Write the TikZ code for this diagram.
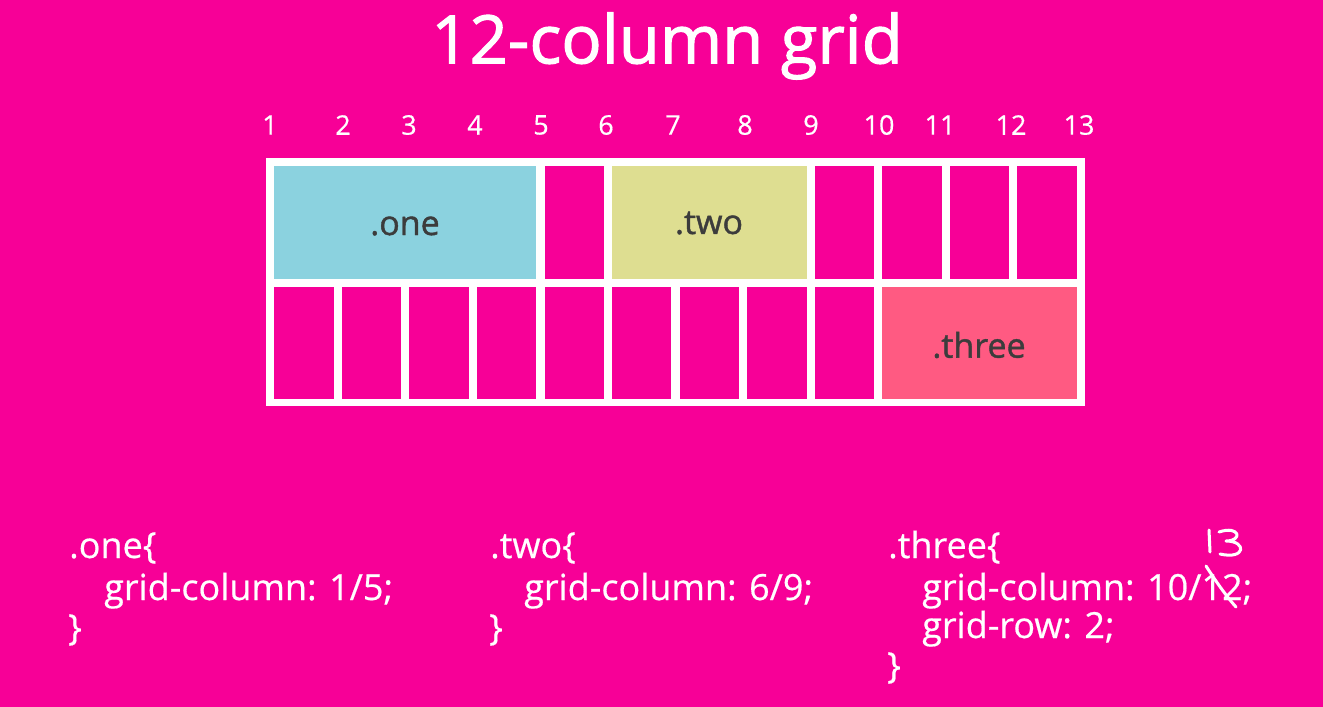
\documentclass[tikz,border=0pt]{standalone}
\usepackage{fontspec}
\setmainfont{Open Sans}
\newfontfamily\headfont[FakeBold=1.6]{Open Sans}
\newfontfamily\medfont[FakeBold=1.2]{Open Sans}
\newfontfamily\codefont[FakeBold=0.5]{Open Sans}
\definecolor{bgpink}{RGB}{247,0,151}
\definecolor{cellone}{RGB}{139,210,223}
\definecolor{celltwo}{RGB}{222,222,145}
\definecolor{cellthree}{RGB}{255,90,130}
\definecolor{labelgrey}{RGB}{60,60,60}
\tikzset{
  titletext/.style={white,font=\headfont\fontsize{67}{80}\selectfont},
  linenum/.style={white,font=\codefont\fontsize{27}{32}\selectfont},
  cellfill/.style={fill=bgpink},
  arealabel/.style={labelgrey,font=\medfont\fontsize{34}{40}\selectfont},
  codeline/.style={white,anchor=base west,inner sep=0pt,font=\codefont\fontsize{36}{42}\selectfont},
  pen/.style={white,line width=3pt,line cap=round,line join=round}
}
\begin{document}
\begin{tikzpicture}[x=1pt,y=-1pt]
  % page and background
  \fill[bgpink] (0,0) rectangle (1323,707);
  \useasboundingbox (0,0) rectangle (1323,707);

  % heading
  \node[titletext] (title) at (667,46) {12-column grid};

  % grid line numbers
  \foreach \n/\x in {1/270,2/343,3/409,4/475,5/541,6/606,7/673,8/745,9/811,10/879,11/940,12/1011,13/1079}
    \node[linenum] (n\n) at (\x,125) {\n};

  % grid frame
  \fill[white] (266,158) rectangle (1085,406);

  % empty cells, two rows of twelve
  \foreach \i in {0,...,11} {
    \pgfmathsetmacro{\xa}{274.3+\i*67.55}
    \pgfmathsetmacro{\xb}{\xa+59.35}
    \fill[cellfill] (\xa,165.7) rectangle (\xb,279);
    \fill[cellfill] (\xa,286.7) rectangle (\xb,399);
  }

  % placed items
  \fill[cellone]   (274.3,165.7) rectangle (536.3,279);
  \fill[celltwo]   (612.1,165.7) rectangle (806.5,279);
  \fill[cellthree] (882.3,286.7) rectangle (1076.7,399);
  \node[arealabel] (one)   at (405,226) {.one};
  \node[arealabel] (two)   at (709,223) {.two};
  \node[arealabel] (three) at (979,345) {.three};

  % css for .one
  \node[codeline] (c1a) at (69,558)  {.one\{};
  \node[codeline] (c1b) at (104,600) {grid-column: 1/5;};
  \node[codeline] (c1c) at (68,640)  {\}};

  % css for .two
  \node[codeline] (c2a) at (490,558) {.two\{};
  \node[codeline] (c2b) at (524,600) {grid-column: 6/9;};
  \node[codeline] (c2c) at (489,640) {\}};

  % css for .three
  \node[codeline] (c3a) at (888,558) {.three\{};
  \node[codeline] (c3b) at (922,600) {grid-column: 10/12;};
  \node[codeline] (c3c) at (922,638) {grid-row: 2;};
  \node[codeline] (c3d) at (887,678) {\}};

  % handwritten correction: 12 -> 13
  \draw[pen] (1209,530) -- (1210,552);
  \draw[pen] (1219,532) .. controls (1240,525) and (1243,541) .. (1226,541)
             .. controls (1247,541) and (1246,560) .. (1220,554);
  \draw[pen] (1206,566) .. controls (1215,580) and (1226,596) .. (1236,607);
\end{tikzpicture}
\end{document}
